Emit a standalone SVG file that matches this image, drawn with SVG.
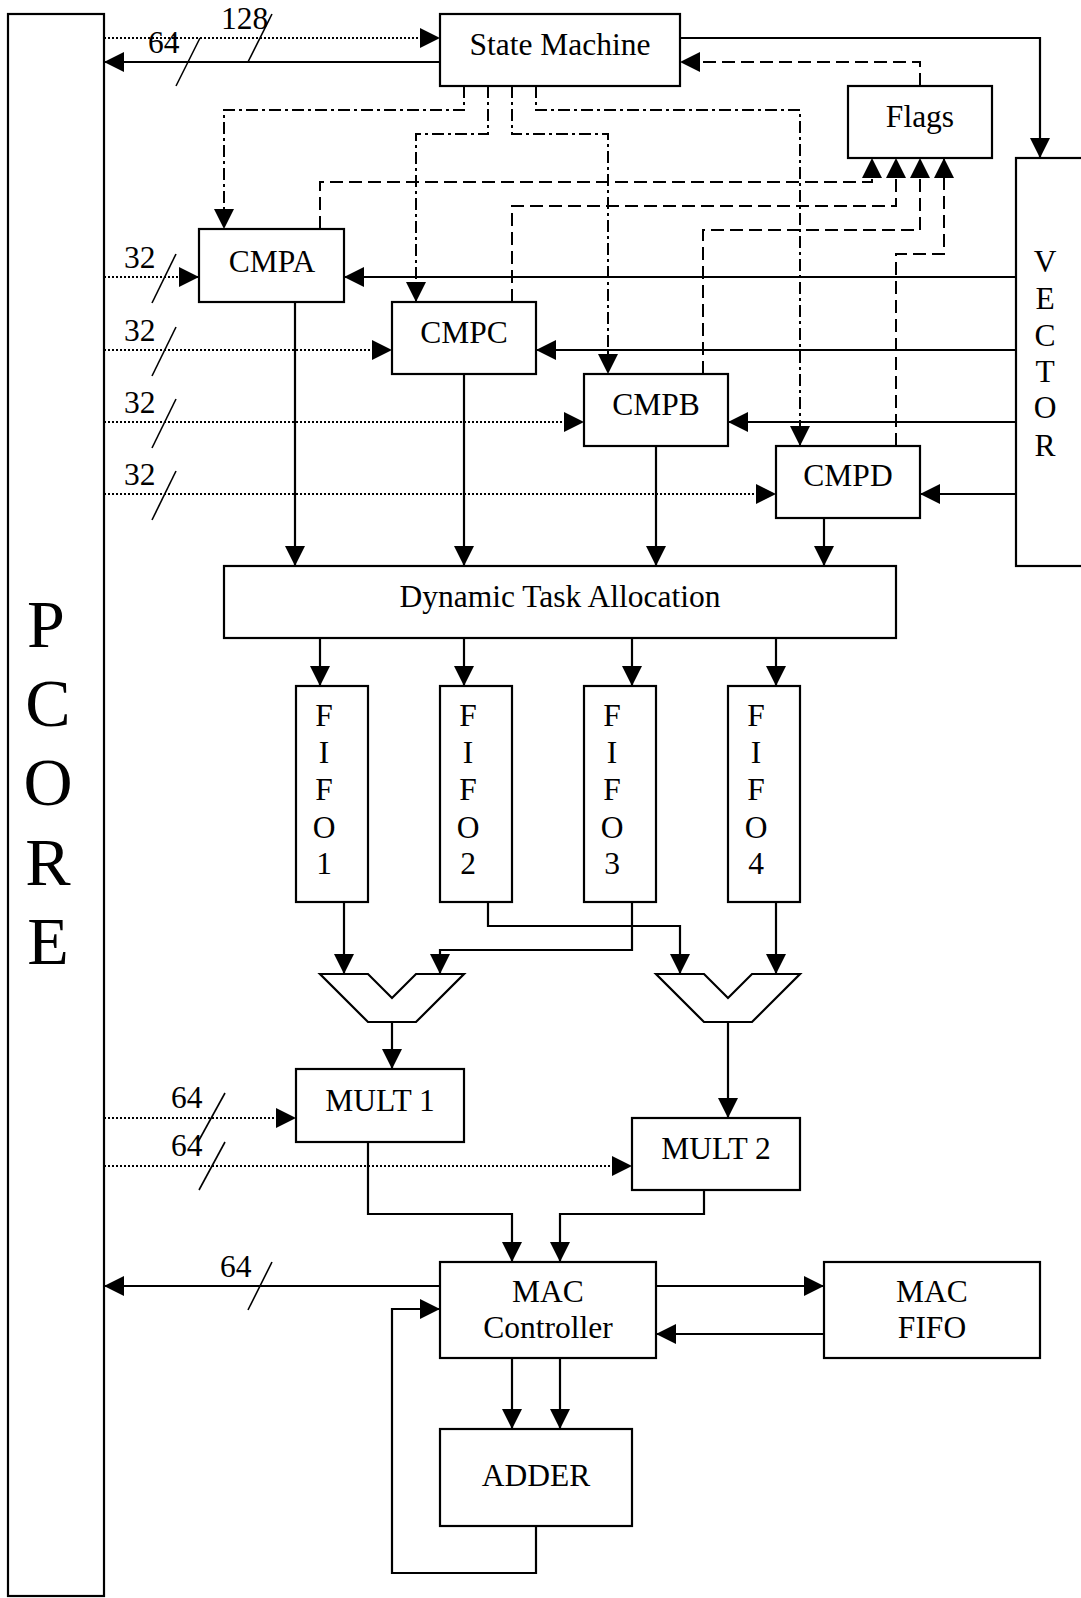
<svg xmlns="http://www.w3.org/2000/svg" width="1081" height="1598" viewBox="0 0 1081 1598">
<style>
.box{fill:#fff;stroke:#000;stroke-width:2.2}
.t{font-family:"Liberation Serif","Times New Roman",serif;font-size:31.5px;fill:#000}
.c{text-anchor:middle}
.big{font-family:"Liberation Serif","Times New Roman",serif;font-size:68px;fill:#000;text-anchor:middle}
.s{fill:none;stroke:#000;stroke-width:2.2}
.dot{fill:none;stroke:#000;stroke-width:2;stroke-dasharray:2 2}
.dd{fill:none;stroke:#000;stroke-width:2;stroke-dasharray:12 4 3 4}
.da{fill:none;stroke:#000;stroke-width:2;stroke-dasharray:13 6}
.sl{fill:none;stroke:#000;stroke-width:1.6}
</style>
<defs>
<marker id="a" markerUnits="userSpaceOnUse" markerWidth="20" markerHeight="20" refX="20" refY="10" orient="auto" viewBox="0 0 20 20">
<path d="M0,0 L20,10 L0,20 z" fill="#000"/>
</marker>
</defs>
<rect width="1081" height="1598" fill="#fff"/>

<g id="connectors">
<path class="dot" d="M104,38 H440" marker-end="url(#a)"/>
<path class="s" d="M440,62 H104" marker-end="url(#a)"/>
<path class="sl" d="M200,38 L176,86"/>
<path class="sl" d="M272,14 L248,62"/>
<text class="t" x="148" y="53">64</text>
<text class="t" x="221" y="29">128</text>
<path class="s" d="M680,38 H1040 V158" marker-end="url(#a)"/>
<path class="da" d="M920,86 V62 H680" marker-end="url(#a)"/>
<path class="dd" d="M464,86 V110 H224 V229" marker-end="url(#a)"/>
<path class="dd" d="M488,86 V134 H416 V302" marker-end="url(#a)"/>
<path class="dd" d="M512,86 V134 H608 V374" marker-end="url(#a)"/>
<path class="dd" d="M536,86 V110 H800 V446" marker-end="url(#a)"/>
<path class="da" d="M320,229 V182 H872 V158" marker-end="url(#a)"/>
<path class="da" d="M512,302 V206 H896 V158" marker-end="url(#a)"/>
<path class="da" d="M703,374 V230 H920 V158" marker-end="url(#a)"/>
<path class="da" d="M896,446 V254 H944 V158" marker-end="url(#a)"/>
<path class="s" d="M1016,277 H344" marker-end="url(#a)"/>
<path class="s" d="M1016,350 H536" marker-end="url(#a)"/>
<path class="s" d="M1016,422 H728" marker-end="url(#a)"/>
<path class="s" d="M1016,494 H920" marker-end="url(#a)"/>
<path class="dot" d="M104,277 H199" marker-end="url(#a)"/>
<path class="dot" d="M104,350 H392" marker-end="url(#a)"/>
<path class="dot" d="M104,422 H584" marker-end="url(#a)"/>
<path class="dot" d="M104,494 H776" marker-end="url(#a)"/>
<path class="sl" d="M176,254 L152,303"/>
<path class="sl" d="M176,327 L152,376"/>
<path class="sl" d="M176,399 L152,448"/>
<path class="sl" d="M176,471 L152,520"/>
<text class="t" x="124" y="268">32</text>
<text class="t" x="124" y="341">32</text>
<text class="t" x="124" y="413">32</text>
<text class="t" x="124" y="485">32</text>
<path class="s" d="M295,302 V566" marker-end="url(#a)"/>
<path class="s" d="M464,374 V566" marker-end="url(#a)"/>
<path class="s" d="M656,446 V566" marker-end="url(#a)"/>
<path class="s" d="M824,518 V566" marker-end="url(#a)"/>
<path class="s" d="M320,638 V686" marker-end="url(#a)"/>
<path class="s" d="M464,638 V686" marker-end="url(#a)"/>
<path class="s" d="M632,638 V686" marker-end="url(#a)"/>
<path class="s" d="M776,638 V686" marker-end="url(#a)"/>
<path class="s" d="M344,902 V974" marker-end="url(#a)"/>
<path class="s" d="M488,902 V926 H680 V974" marker-end="url(#a)"/>
<path class="s" d="M632,902 V950 H440 V974" marker-end="url(#a)"/>
<path class="s" d="M776,902 V974" marker-end="url(#a)"/>
<path class="s" d="M392,1022 V1069" marker-end="url(#a)"/>
<path class="s" d="M728,1022 V1118" marker-end="url(#a)"/>
<path class="dot" d="M104,1118 H296" marker-end="url(#a)"/>
<path class="dot" d="M104,1166 H632" marker-end="url(#a)"/>
<path class="sl" d="M225,1093 L198,1142"/>
<path class="sl" d="M225,1142 L199,1190"/>
<text class="t" x="171" y="1108">64</text>
<text class="t" x="171" y="1156">64</text>
<path class="s" d="M368,1142 V1214 H512 V1262" marker-end="url(#a)"/>
<path class="s" d="M704,1190 V1214 H560 V1262" marker-end="url(#a)"/>
<path class="s" d="M440,1286 H104" marker-end="url(#a)"/>
<path class="sl" d="M272,1262 L248,1310"/>
<text class="t" x="220" y="1277">64</text>
<path class="s" d="M656,1286 H824" marker-end="url(#a)"/>
<path class="s" d="M824,1334 H656" marker-end="url(#a)"/>
<path class="s" d="M512,1358 V1429" marker-end="url(#a)"/>
<path class="s" d="M560,1358 V1429" marker-end="url(#a)"/>
<path class="s" d="M536,1526 V1573 H392 V1309 H440" marker-end="url(#a)"/>
</g>

<g id="pcore">
<rect class="box" x="8" y="14" width="96" height="1582"/>
<text class="big" x="46" y="647">P</text>
<text class="big" x="48" y="726">C</text>
<text class="big" x="48" y="805">O</text>
<text class="big" x="48" y="885">R</text>
<text class="big" x="48" y="964">E</text>
</g>
<g id="state-machine">
<rect class="box" x="440" y="14" width="240" height="72"/>
<text class="t c" x="560" y="55">State Machine</text>
</g>
<g id="flags">
<rect class="box" x="848" y="86" width="144" height="72"/>
<text class="t c" x="920" y="127">Flags</text>
</g>
<g id="vector">
<rect class="box" x="1016" y="158" width="80" height="408"/>
<text class="t c" x="1045" y="272">V</text>
<text class="t c" x="1045" y="309">E</text>
<text class="t c" x="1045" y="346">C</text>
<text class="t c" x="1045" y="382">T</text>
<text class="t c" x="1045" y="418">O</text>
<text class="t c" x="1045" y="456">R</text>
</g>
<g id="cmpa">
<rect class="box" x="199" y="229" width="145" height="73"/>
<text class="t c" x="272" y="272">CMPA</text>
</g>
<g id="cmpc">
<rect class="box" x="392" y="302" width="144" height="72"/>
<text class="t c" x="464" y="343">CMPC</text>
</g>
<g id="cmpb">
<rect class="box" x="584" y="374" width="144" height="72"/>
<text class="t c" x="656" y="415">CMPB</text>
</g>
<g id="cmpd">
<rect class="box" x="776" y="446" width="144" height="72"/>
<text class="t c" x="848" y="486">CMPD</text>
</g>
<g id="dta">
<rect class="box" x="224" y="566" width="672" height="72"/>
<text class="t c" x="560" y="607">Dynamic Task Allocation</text>
</g>
<g id="fifo1">
<rect class="box" x="296" y="686" width="72" height="216"/>
<text class="t c" x="324" y="726">F</text><text class="t c" x="324" y="763">I</text><text class="t c" x="324" y="800">F</text><text class="t c" x="324" y="838">O</text><text class="t c" x="324" y="874">1</text>
</g>
<g id="fifo2">
<rect class="box" x="440" y="686" width="72" height="216"/>
<text class="t c" x="468" y="726">F</text><text class="t c" x="468" y="763">I</text><text class="t c" x="468" y="800">F</text><text class="t c" x="468" y="838">O</text><text class="t c" x="468" y="874">2</text>
</g>
<g id="fifo3">
<rect class="box" x="584" y="686" width="72" height="216"/>
<text class="t c" x="612" y="726">F</text><text class="t c" x="612" y="763">I</text><text class="t c" x="612" y="800">F</text><text class="t c" x="612" y="838">O</text><text class="t c" x="612" y="874">3</text>
</g>
<g id="fifo4">
<rect class="box" x="728" y="686" width="72" height="216"/>
<text class="t c" x="756" y="726">F</text><text class="t c" x="756" y="763">I</text><text class="t c" x="756" y="800">F</text><text class="t c" x="756" y="838">O</text><text class="t c" x="756" y="874">4</text>
</g>
<g id="mux1">
<polygon class="box" points="320,974 368,974 392,998 416,974 464,974 416,1022 368,1022"/>
</g>
<g id="mux2">
<polygon class="box" points="656,974 704,974 728,998 752,974 800,974 752,1022 704,1022"/>
</g>
<g id="mult1">
<rect class="box" x="296" y="1069" width="168" height="73"/>
<text class="t c" x="380" y="1111">MULT 1</text>
</g>
<g id="mult2">
<rect class="box" x="632" y="1118" width="168" height="72"/>
<text class="t c" x="716" y="1159">MULT 2</text>
</g>
<g id="mac-controller">
<rect class="box" x="440" y="1262" width="216" height="96"/>
<text class="t c" x="548" y="1302">MAC</text>
<text class="t c" x="548" y="1338">Controller</text>
</g>
<g id="mac-fifo">
<rect class="box" x="824" y="1262" width="216" height="96"/>
<text class="t c" x="932" y="1302">MAC</text>
<text class="t c" x="932" y="1338">FIFO</text>
</g>
<g id="adder">
<rect class="box" x="440" y="1429" width="192" height="97"/>
<text class="t c" x="536" y="1486">ADDER</text>
</g>
</svg>
